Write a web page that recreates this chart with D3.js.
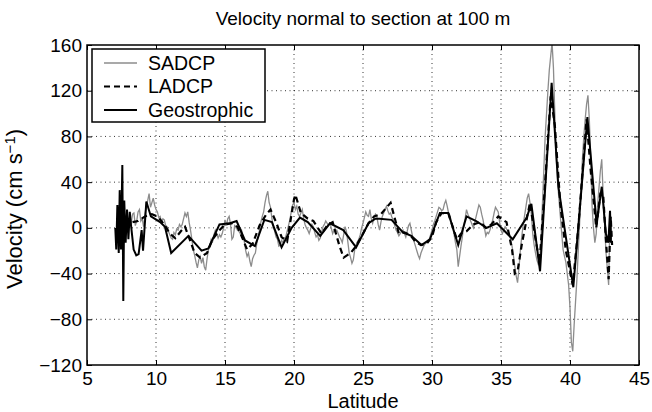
<!DOCTYPE html>
<html>
<head>
<meta charset="utf-8">
<script src="https://d3js.org/d3.v7.min.js"></script>
<style>
  body { margin: 0; background: #fff; }
  text { font-family: "Liberation Sans", Arial, Helvetica, sans-serif; }
</style>
</head>
<body>
<div id="chart"></div>
<script>
// Data
// SADCP: shipboard record, one value every 0.1 deg latitude starting at 8.1
const sadcpStart = 8.1;
const sadcpStep = 0.1;
const sadcpVel = [
  10, 4, 12, 13, 2, 6, 14, 16, 6,
  8, 1, 12, 19, 24, 30, 18, 22, 26, 20,
  16, 14, 9, 10, 5, 8, 7, 2, 1, -3,
  -6, -9, -10, -4, -6, -1, -2, 3, 1, 3,
  8, 13, 10, 14, 5, -2, -10, -19, -24, -30,
  -35, -28, -25, -31, -26, -34, -37, -27, -19, -15,
  -10, -12, -6, -2, -5, -9, -6, -8, -5, 0,
  7, 2, 8, 10, 3, -10, -8, 2, 1, -2,
  -3, -5, -2, -8, -12, -20, -25, -22, -29, -34,
  -27, -24, -22, -14, -8, -2, 5, 10, 14, 22,
  28, 32, 22, 18, 8, 1, -3, -8, -10, -16,
  -15, -11, -13, -9, -8, -3, 2, 7, 14, 20,
  22, 16, 19, 12, 10, 13, 16, 8, 3, 0,
  -2, -5, -1, 3, 1, -4, -8, -6, -11, -9,
  -4, 1, 3, 6, 4, 2, 4, 0, -5, -2,
  -4, -2, -5, -8, -10, -13, -6, 1, -3, -12,
  -22, -26, -31, -28, -19, -15, -12, -10, -6, 0,
  4, 9, 14, 11, 10, 16, 8, 4, 9, 12,
  10, 3, -2, 5, 10, 13, 16, 19, 15, 12,
  13, 9, 7, 2, -2, -4, -7, -5, -3, -2,
  -5, -8, -3, 2, 4, -2, -8, -12, -16, -20,
  -24, -27, -22, -19, -16, -14, -13, -11, -10, -6,
  -2, 3, 6, 10, 14, 18, 17, 15, 16, 21,
  24, 19, 13, 11, 5, 1, -6, -13, -19, -34,
  -25, -16, -8, 2, 8, 16, 12, 9, 6, 3,
  0, 5, 10, 15, 20, 18, 12, 7, 0, -7,
  -4, -5, -2, 3, 7, 13, 18, 16, 14, 5,
  -2, -5, -2, 1, -1, -3, -5, -10, -16, -24,
  -34, -42, -48, -36, -20, -8, 2, 10, 18, 26,
  30, 22, 12, -5, -15, -22, -28, -32, -30, -10,
  20, 50, 80, 100, 120, 138, 150, 162, 140, 100,
  60, 40, 25, 10, -5, -19, -25, -30, -40, -50,
  -70, -100, -108, -85, -65, -45, -20, 5, 35, 60,
  80, 95, 108, 116, 95, 60, 19, 0, -13, -5,
  20, 35, 50, 60, 30, 5, -20, -35, -50, 13,
  -10
];

// LADCP: station profiles
const ladcpLat = [8.3, 8.7, 9.2, 9.7, 10.1, 10.6, 11.0, 11.4, 11.8, 12.1, 12.5, 12.8, 13.2, 13.7,
  14.1, 14.6, 15.0, 15.5, 15.9, 16.3, 16.6, 17.0, 17.5, 18.0, 18.3, 18.7, 19.1, 19.5, 20.0,
  20.1, 20.5, 21.0, 21.4, 22.0, 22.4, 22.8, 23.3, 23.6, 24.1, 24.5, 25.0, 25.4, 25.8, 26.3,
  27.0, 27.6, 28.0, 28.4, 28.8, 29.2, 29.6, 30.0, 30.3, 30.7, 31.2, 31.8, 32.1, 32.5, 33.0,
  33.5, 33.9, 34.3, 34.8, 35.4, 35.8, 36.0, 36.2, 36.5, 36.8, 37.1, 37.5, 37.8, 38.2, 38.6,
  38.9, 39.3, 39.7, 40.2, 40.6, 41.2, 41.5, 41.9, 42.2, 42.4, 42.6, 42.8, 42.95, 43.05];
const ladcpVel = [5, 6, 10, 12, 10, 3, -5, -9, -3, 1, -12, -22, -26, -22,
  -10, -2, 3, 4, 1, -10, -19, -14, 2, 12, 16, 5, -8, -12, 25,
  29, 13, 8, 6, -5, 2, 5, -16, -26, -22, -16, -5, 4, 10, 12,
  22, -5, -4, -6, -12, -15, -14, -8, 5, 13, 12, -10, -5, -3, 3,
  5, 0, 3, 10, 5, -19, -40, -38, -15, 4, 22, -10, -30, 40, 115,
  90, 20, -20, -50, 0, 95, 50, 0, 30, 30, -10, -45, 10, -15];

// Geostrophic velocity between station pairs
const geoLat = [7.05, 7.12, 7.2, 7.3, 7.37, 7.46, 7.56, 7.63, 7.7, 7.8, 7.9, 8.0, 8.1, 8.2,
  8.38, 8.57, 8.74, 8.96, 9.06, 9.3, 9.63, 10.3, 10.65, 11.1, 12.35, 13.3, 13.8, 14.6,
  15.36, 15.84, 16.45, 17.17, 17.85, 18.4, 19.1, 19.83, 20.43, 21.0, 21.9, 22.6, 23.57,
  24.5, 25.4, 25.9, 26.2, 27.07, 27.9, 28.5, 29.24, 29.85, 30.57, 31.18, 31.9, 32.5, 33.2,
  33.95, 34.7, 35.85, 36.86, 37.2, 37.83, 38.67, 39.16, 40.24, 41.26, 41.93, 42.3, 42.6,
  42.78, 42.9, 42.97];
const geoVel = [0, -19, 20, -22, 33, -19, 55, -64, 24, -13, 16, -10, 14, 1,
  -19, -24, -23, -2, -20, 23, 10, 5, 1, -22, -7, -20, -18, 3,
  4, 6, -11, -16, 7, 5, -17, 0, 9, 5, -7, 4, -2,
  -17, 4, 8, 8, 7, -4, -7, -15, -10, 13, 13, -15, 10, 6,
  0, 4, -10, 9, 21, -38, 127, 36, -52, 97, 3, 36, -5,
  -13, 15, -13];

const xTicks = [5, 10, 15, 20, 25, 30, 35, 40, 45];
const yTicks = [-120, -80, -40, 0, 40, 80, 120, 160];
const seriesNames = ["SADCP", "LADCP", "Geostrophic"];

const margin = { top: 45, right: 13, bottom: 47, left: 87 };
const width = 652 - margin.left - margin.right;
const height = 412 - margin.top - margin.bottom;

const svg = d3.select("#chart")
  .append("svg")
  .attr("width", width + margin.left + margin.right)
  .attr("height", height + margin.top + margin.bottom)
  .append("g")
  .attr("transform", "translate(" + margin.left + "," + margin.top + ")");

const x = d3.scaleLinear().domain([5, 45]).range([0, width]);
const y = d3.scaleLinear().domain([-120, 160]).range([height, 0]);

// dotted grid
svg.append("g")
  .selectAll("line")
  .data(xTicks.slice(1, -1))
  .enter().append("line")
  .attr("x1", d => x(d)).attr("x2", d => x(d))
  .attr("y1", 0).attr("y2", height)
  .attr("stroke", "#000").attr("stroke-width", 0.8)
  .attr("stroke-dasharray", "1,3.5");
svg.append("g")
  .selectAll("line")
  .data(yTicks.slice(1, -1))
  .enter().append("line")
  .attr("x1", 0).attr("x2", width)
  .attr("y1", d => y(d)).attr("y2", d => y(d))
  .attr("stroke", "#000").attr("stroke-width", 0.8)
  .attr("stroke-dasharray", "1,3.5");

svg.append("clipPath").attr("id", "clip")
  .append("rect").attr("width", width).attr("height", height);

const sadcp = sadcpVel.map((v, i) => ({ lat: sadcpStart + i * sadcpStep, v: v }));
const ladcp = ladcpLat.map((l, i) => ({ lat: l, v: ladcpVel[i] }));
const geo = geoLat.map((l, i) => ({ lat: l, v: geoVel[i] }));

const line = d3.line().x(d => x(d.lat)).y(d => y(d.v));

const plot = svg.append("g").attr("clip-path", "url(#clip)");
plot.append("path").datum(sadcp)
  .attr("d", line).attr("fill", "none")
  .attr("stroke", "#8c8c8c").attr("stroke-width", 1.3);
plot.append("path").datum(ladcp)
  .attr("d", line).attr("fill", "none")
  .attr("stroke", "#000").attr("stroke-width", 2.2)
  .attr("stroke-dasharray", "6,4");
plot.append("path").datum(geo)
  .attr("d", line).attr("fill", "none")
  .attr("stroke", "#000").attr("stroke-width", 2);

// axes with inward ticks
svg.append("g")
  .attr("transform", "translate(0," + height + ")")
  .call(d3.axisBottom(x).tickValues(xTicks).tickSizeInner(-5).tickSizeOuter(0).tickPadding(7))
  .call(g => g.selectAll("text").style("font-size", "19px").attr("fill", "#000"));
svg.append("g")
  .call(d3.axisLeft(y).tickValues(yTicks).tickSizeInner(-5).tickSizeOuter(0).tickPadding(5))
  .call(g => g.selectAll("text").style("font-size", "19px").attr("fill", "#000"));
svg.append("g")
  .call(d3.axisTop(x).tickValues(xTicks).tickSizeInner(-5).tickSizeOuter(0).tickFormat(""));
svg.append("g")
  .attr("transform", "translate(" + width + ",0)")
  .call(d3.axisRight(y).tickValues(yTicks).tickSizeInner(-5).tickSizeOuter(0).tickFormat(""));
svg.selectAll(".domain").remove();
svg.selectAll(".tick line").attr("stroke", "#000");

svg.append("rect")
  .attr("width", width).attr("height", height)
  .attr("fill", "none").attr("stroke", "#000").attr("stroke-width", 1.5);

// titles
svg.append("text")
  .attr("x", width / 2).attr("y", -20)
  .attr("text-anchor", "middle")
  .style("font-size", "19px")
  .text("Velocity normal to section at 100 m");
svg.append("text")
  .attr("x", width / 2).attr("y", height + 42.5)
  .attr("text-anchor", "middle")
  .style("font-size", "20px")
  .text("Latitude");
const ylab = svg.append("text")
  .attr("transform", "translate(" + (-65) + "," + (height / 2 + 4) + ") rotate(-90)")
  .attr("text-anchor", "middle")
  .style("font-size", "22px");
ylab.append("tspan").text("Velocity (cm s");
ylab.append("tspan").attr("dy", "-0.45em").style("font-size", "15px").text("\u22121");
ylab.append("tspan").attr("dy", "0.3em").text(")");

// legend
const legend = svg.append("g").attr("transform", "translate(5,4)");
legend.append("rect")
  .attr("width", 173).attr("height", 73)
  .attr("fill", "#fff").attr("stroke", "#000").attr("stroke-width", 1.5);
const styles = [
  { stroke: "#8c8c8c", w: 1.3, dash: null },
  { stroke: "#000", w: 2.2, dash: "6,4" },
  { stroke: "#000", w: 2, dash: null }
];
const rows = legend.selectAll("g.row")
  .data(seriesNames)
  .enter().append("g")
  .attr("class", "row")
  .attr("transform", (d, i) => "translate(0," + (14 + i * 23.5) + ")");
rows.append("line")
  .attr("x1", 12).attr("x2", 45)
  .attr("stroke", (d, i) => styles[i].stroke)
  .attr("stroke-width", (d, i) => styles[i].w)
  .attr("stroke-dasharray", (d, i) => styles[i].dash);
rows.append("text")
  .attr("x", 56).attr("dy", "0.35em")
  .style("font-size", "19.5px")
  .text(d => d);
</script>
</body>
</html>
